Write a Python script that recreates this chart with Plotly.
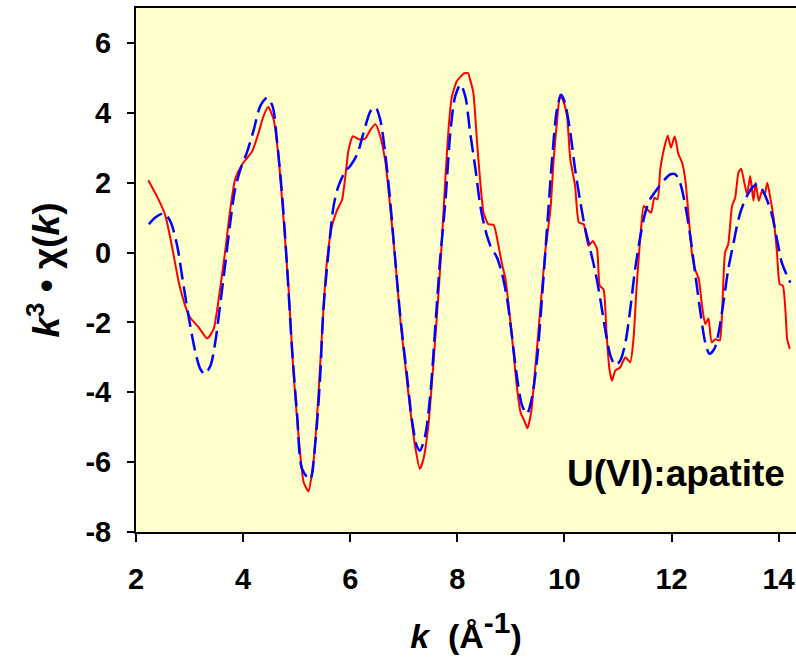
import plotly.graph_objects as go

# Experimental k^3-weighted EXAFS (red, solid)
k_data = [2.23, 2.42, 2.55, 2.67, 2.80, 2.92, 3.01, 3.17, 3.33, 3.45, 3.57, 3.67, 3.76, 3.85, 3.98,
          4.17, 4.29, 4.38, 4.47, 4.57, 4.66, 4.76, 4.85, 4.94, 5.04, 5.13, 5.22, 5.32, 5.41, 5.50,
          5.57, 5.66, 5.75, 5.85, 5.91, 5.97, 6.05, 6.16, 6.28, 6.38, 6.47, 6.56, 6.66, 6.75, 6.84,
          6.94, 7.03, 7.12, 7.22, 7.30, 7.37, 7.46, 7.56, 7.65, 7.71, 7.78, 7.84, 7.90, 7.99, 8.12,
          8.20, 8.24, 8.30, 8.37, 8.43, 8.49, 8.58, 8.68, 8.77, 8.83, 8.90, 8.96, 9.05, 9.11, 9.18,
          9.25, 9.31, 9.38, 9.46, 9.55, 9.64, 9.74, 9.80, 9.87, 9.92, 9.99, 10.05, 10.11, 10.20, 10.27,
          10.36, 10.45, 10.53, 10.61, 10.66, 10.73, 10.79, 10.84, 10.89, 10.95, 11.04, 11.14, 11.23, 11.29,
          11.35, 11.42, 11.48, 11.54, 11.62, 11.68, 11.74, 11.79, 11.85, 11.93, 11.99, 12.06, 12.13, 12.20,
          12.26, 12.32, 12.38, 12.44, 12.51, 12.57, 12.63, 12.69, 12.75, 12.82, 12.90, 12.94, 13.00, 13.06,
          13.13, 13.19, 13.25, 13.30, 13.36, 13.41, 13.47, 13.53, 13.57, 13.63, 13.69, 13.74, 13.79, 13.85,
          13.91, 13.97, 14.02, 14.08, 14.13, 14.16, 14.21]
chi_data = [2.07, 1.52, 1.05, 0.19, -0.86, -1.53, -1.86, -2.14, -2.46, -2.19, -1.05, 0.09, 1.24, 2.09, 2.52,
            2.90, 3.43, 3.90, 4.17, 3.81, 2.76, 0.86, -1.05, -3.43, -5.33, -6.57, -6.84, -5.90, -4.00, -1.62,
            -0.19, 0.76, 1.19, 1.52, 2.19, 2.95, 3.33, 3.24, 3.26, 3.52, 3.67, 3.33, 2.57, 1.24, -0.19,
            -2.00, -3.24, -4.48, -5.62, -6.19, -5.90, -4.95, -3.05, -1.14, 0.29, 2.19, 3.62, 4.47, 4.90, 5.12,
            5.14, 4.95, 4.57, 3.14, 2.00, 1.14, 0.81, 0.79, 0.19, -0.29, -0.76, -1.52, -2.86, -3.81, -4.57,
            -4.81, -5.03, -4.57, -3.24, -1.62, 0.00, 1.24, 2.67, 3.90, 4.52, 4.29, 3.90, 2.67, 1.90, 0.86,
            0.81, 0.19, 0.33, 0.10, -0.95, -1.05, -2.38, -3.33, -3.67, -3.38, -3.29, -3.00, -3.14, -2.48,
            -0.95, 0.48, 1.33, 1.24, 1.14, 1.57, 1.52, 2.38, 2.90, 3.35, 3.00, 3.33, 2.81, 2.57,
            2.05, 1.05, 0.00, -0.48, -0.76, -1.52, -2.05, -1.89, -2.57, -2.48, -2.52, -1.90, 0.00, 0.24,
            1.33, 1.57, 2.29, 2.40, 2.00, 1.67, 2.19, 1.48, 2.00, 1.48, 1.76, 1.67, 2.00, 1.52,
            0.95, 0.00, -0.90, -0.95, -1.71, -2.48, -2.76]

# Shell-fit result (blue, dashed)
k_fit = [2.24, 2.36, 2.52, 2.64, 2.77, 2.86, 2.98, 3.11, 3.20, 3.28, 3.39, 3.48, 3.57, 3.67, 3.76,
         3.85, 3.95, 4.07, 4.20, 4.32, 4.45, 4.55, 4.63, 4.73, 4.82, 4.91, 5.01, 5.10, 5.25, 5.35,
         5.44, 5.50, 5.60, 5.69, 5.78, 5.91, 6.00, 6.13, 6.25, 6.38, 6.47, 6.56, 6.66, 6.75, 6.84,
         6.94, 7.06, 7.15, 7.24, 7.30, 7.40, 7.50, 7.59, 7.68, 7.78, 7.87, 7.96, 8.06, 8.15, 8.24,
         8.34, 8.43, 8.52, 8.62, 8.74, 8.83, 8.93, 9.02, 9.11, 9.21, 9.30, 9.39, 9.49, 9.58, 9.67,
         9.77, 9.86, 9.94, 10.01, 10.11, 10.20, 10.30, 10.39, 10.48, 10.58, 10.67, 10.76, 10.86, 10.95, 11.04,
         11.14, 11.23, 11.32, 11.42, 11.51, 11.60, 11.73, 11.85, 11.98, 12.07, 12.16, 12.26, 12.35, 12.44,
         12.54, 12.63, 12.71, 12.80, 12.88, 12.97, 13.06, 13.16, 13.25, 13.34, 13.44, 13.53, 13.61, 13.69,
         13.78, 13.88, 13.97, 14.06, 14.16, 14.22]
chi_fit = [0.81, 1.00, 1.12, 0.90, 0.19, -0.67, -1.81, -2.86, -3.33, -3.48, -3.24, -2.57, -1.52, -0.29, 0.86,
           1.81, 2.38, 2.86, 3.52, 4.19, 4.43, 4.19, 3.24, 1.62, -0.38, -2.67, -4.67, -6.19, -6.50, -5.43,
           -3.52, -1.62, 0.10, 1.33, 1.90, 2.33, 2.48, 2.81, 3.43, 4.05, 4.16, 3.81, 2.76, 1.43, -0.19,
           -1.90, -3.52, -4.76, -5.52, -5.67, -5.24, -4.00, -2.10, -0.19, 1.52, 3.43, 4.47, 4.81, 4.47, 3.43,
           2.38, 1.33, 0.67, 0.19, -0.14, -0.57, -1.33, -2.38, -3.52, -4.38, -4.62, -4.19, -3.05, -1.33, 0.57,
           2.67, 4.09, 4.52, 4.29, 3.43, 2.38, 1.43, 0.67, 0.10, -0.57, -1.33, -2.19, -2.95, -3.22, -3.10,
           -2.57, -1.62, -0.48, 0.48, 1.14, 1.52, 1.81, 2.05, 2.24, 2.24, 2.00, 1.33, 0.48, -0.57,
           -1.71, -2.57, -2.90, -2.76, -2.29, -1.43, -0.48, 0.29, 0.95, 1.38, 1.71, 1.90, 1.95, 1.81,
           1.52, 1.05, 0.38, -0.29, -0.67, -0.86]

x_ticks = [2, 4, 6, 8, 10, 12, 14]
y_ticks = [-8, -6, -4, -2, 0, 2, 4, 6]
sample_label = "U(VI):apatite"

FONT = "Liberation Sans, Arial, sans-serif"

fig = go.Figure()
fig.add_trace(go.Scatter(x=k_data, y=chi_data, mode="lines",
                         line=dict(color="#FF0000", width=2, shape="spline", smoothing=0.5), name="data"))
fig.add_trace(go.Scatter(x=k_fit, y=chi_fit, mode="lines",
                         line=dict(color="#0000FF", width=2.5, dash="17px,7px", shape="spline", smoothing=0.8),
                         name="fit"))

fig.update_layout(
    width=796, height=657,
    margin=dict(l=136, r=0, t=8, b=125),
    paper_bgcolor="white",
    plot_bgcolor="#FFFFCC",
    showlegend=False,
    hovermode=False,
    font=dict(family=FONT, color="black"),
    annotations=[dict(text="<b>" + sample_label + "</b>", xref="paper", yref="paper",
                      x=0.9864, y=0.112, xanchor="right", yanchor="middle", showarrow=False,
                      font=dict(size=37, family=FONT, color="black"))],
)
fig.update_xaxes(
    range=[2, 14.325], tickvals=x_ticks, ticktext=[f"<b>{v}</b>" for v in x_ticks],
    showgrid=False, zeroline=False, showline=True, linecolor="black", linewidth=2, mirror=True,
    ticks="outside", ticklen=8, tickwidth=1.5, tickcolor="black", automargin=False,
    tickfont=dict(size=29, family=FONT), ticklabelstandoff=12,
    title=dict(text="<b><i>k</i>&nbsp; (Å<sup><span style='font-size:30px'>-1</span></sup>)</b>",
               font=dict(size=34, family=FONT), standoff=30),
)
fig.update_yaxes(
    range=[-8, 7], tickvals=y_ticks, ticktext=[f"<b>{v}</b>" for v in y_ticks],
    showgrid=False, zeroline=False, showline=True, linecolor="black", linewidth=2, automargin=False,
    ticks="outside", ticklen=7, tickwidth=1.5, tickcolor="black",
    tickfont=dict(size=29, family=FONT), ticklabelstandoff=10,
    title=dict(text="<b><i>k</i><sup>3</sup> • χ(<i>k</i>)</b>", font=dict(size=37, family=FONT), standoff=14),
)

fig.write_html("out.html", config={"displayModeBar": False},
               post_script="document.body.style.margin='0';document.body.style.overflow='hidden';")
